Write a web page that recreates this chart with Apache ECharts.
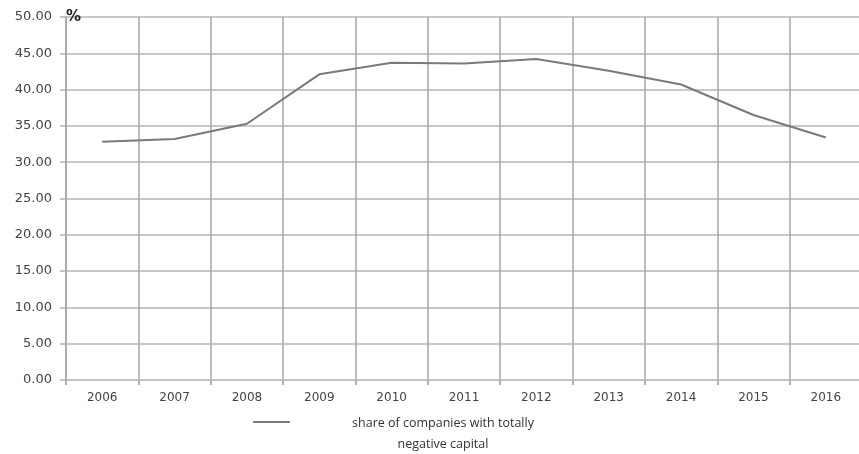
<!DOCTYPE html>
<html>
<head>
<meta charset="utf-8">
<script src="https://cdn.jsdelivr.net/npm/echarts@6/dist/echarts.min.js"></script>
<style>
  html, body { margin: 0; padding: 0; background: #fff; overflow: hidden; }
  /* canvas slightly wider than the page so the last category runs off the right edge */
  #chart { width: 862px; height: 454px; }
</style>
</head>
<body>
<div id="chart"></div>
<script>
// Years on the horizontal axis
const years = ['2006', '2007', '2008', '2009', '2010', '2011', '2012', '2013', '2014', '2015', '2016'];
// Share of companies with totally negative capital, %
const negativeCapitalShare = [32.8, 33.2, 35.3, 42.1, 43.7, 43.6, 44.2, 42.6, 40.7, 36.5, 33.4];
const seriesName = 'share of companies with totally negative capital';

const chart = echarts.init(document.getElementById('chart'), null, { renderer: 'canvas' });

chart.setOption({
  animation: false,
  backgroundColor: '#ffffff',
  grid: { left: 66, right: 0, top: 17, bottom: 74, containLabel: false },
  legend: {
    left: 253,
    top: 417,
    padding: 0,
    itemWidth: 37,
    itemHeight: 26,
    // short bar drawn at the top of the item box so it sits beside the first text line
    icon: 'path://M0,0 L37,0 L37,2 L0,2 Z M0,26 L0.01,26 L0,26 Z',
    data: [{ name: seriesName, itemStyle: { color: '#7a7a7a' } }],
    formatter: () => '{t|share of companies with totally}\n{t|negative capital}',
    textStyle: {
      padding: [0, 0, 0, 48],
      rich: {
        t: {
          fontFamily: 'Open Sans',
          fontSize: 12.5,
          color: '#333',
          lineHeight: 21,
          width: 200,
          align: 'center'
        }
      }
    }
  },
  xAxis: {
    type: 'category',
    data: years,
    boundaryGap: true,
    axisLine: { show: true, lineStyle: { color: '#c4c4c4', width: 2 } },
    axisTick: { show: true, length: 5, alignWithLabel: false, lineStyle: { color: '#9a9a9a', width: 1.5 } },
    axisLabel: { fontFamily: 'DejaVu Sans', fontSize: 12, color: '#444', margin: 12 },
    splitLine: { show: true, lineStyle: { color: '#a6a6a6', width: 1.5 } }
  },
  yAxis: {
    type: 'value',
    min: 0,
    max: 50,
    interval: 5,
    name: '%',
    nameLocation: 'end',
    nameGap: 0,
    nameTextStyle: {
      fontFamily: 'DejaVu Sans',
      fontSize: 15,
      fontWeight: 'bold',
      color: '#222',
      align: 'left',
      verticalAlign: 'middle',
      padding: [4, 0, 0, 0]
    },
    axisLine: { show: true, lineStyle: { color: '#a6a6a6', width: 1.5 } },
    axisTick: { show: true, length: 6, lineStyle: { color: '#b0b0b0', width: 1.5 } },
    axisLabel: {
      fontFamily: 'DejaVu Sans',
      fontSize: 13,
      color: '#444',
      margin: 14,
      formatter: v => v.toFixed(2)
    },
    splitLine: { show: true, lineStyle: { color: '#c8c8c8', width: 2 } }
  },
  series: [{
    name: seriesName,
    type: 'line',
    data: negativeCapitalShare,
    symbol: 'none',
    smooth: false,
    lineStyle: { color: '#7a7a7a', width: 2 },
    itemStyle: { color: '#7a7a7a' }
  }]
});
</script>
</body>
</html>
